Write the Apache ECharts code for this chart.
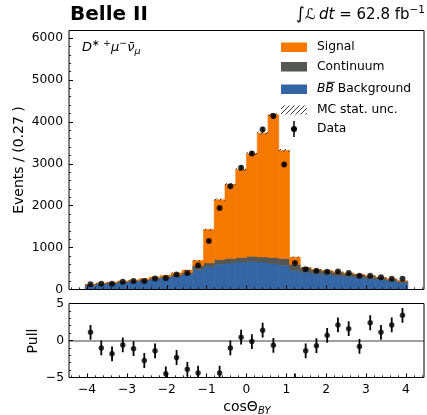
<!DOCTYPE html>
<html><head><meta charset="utf-8">
<script src="https://cdn.jsdelivr.net/npm/echarts@6/dist/echarts.min.js"></script>
<style>html,body{margin:0;padding:0;background:#fff}#c{width:427px;height:415px}</style>
</head><body><div id="c"></div>
<script>
// ---- data ----
const binWidth = 0.27;
const binCenters = [-3.915,-3.645,-3.375,-3.105,-2.835,-2.565,-2.295,-2.025,-1.755,-1.485,
  -1.215,-0.945,-0.675,-0.405,-0.135,0.135,0.405,0.675,0.945,1.215,
  1.485,1.755,2.025,2.295,2.565,2.835,3.105,3.375,3.645,3.915];
const bbBackground = [100,130,145,170,190,215,250,280,320,365,470,540,603,635,659,667,659,619,580,460,405,381,357,333,310,286,262,238,206,167];
const continuum    = [12,15,18,20,22,25,28,32,35,40,100,95,112,103,103,127,119,143,158,140,115,90,85,80,75,72,60,50,40,33];
const signal       = [5,8,8,10,12,15,20,25,40,55,120,794,1429,1771,2104,2446,2954,3407,2581,170,5,4,3,3,2,2,2,1,1,1];
const mcStatUnc    = [6,7,7,8,8,9,9,10,11,12,15,20,25,28,30,32,35,38,33,15,12,11,11,10,10,9,9,8,8,7];
const dataValues   = [127,140,140,185,200,205,262,272,357,395,580,1160,1945,2465,2905,3245,3820,4140,2980,635,484,448,425,430,395,330,330,290,258,254];
const dataErrors   = [11,12,12,14,14,14,16,16,19,20,24,34,44,50,54,57,62,64,55,25,22,21,21,21,20,18,18,17,16,16];
const pullValues   = [1.1,-1.0,-1.8,-0.6,-1.1,-2.7,-1.4,-4.5,-2.3,-3.9,-4.4,-7.4,-4.4,-1.0,0.45,-0.15,1.4,-0.65,-6.2,-5.45,-1.4,-0.7,0.7,2.1,1.6,-0.8,2.4,1.1,2.1,3.4];
const pullErrors   = [1,1,1,1,1,1,1,1,1,1,1,1,1,1,1,1,1,1,1,1,1,1,1,1,1,1,1,1,1,1];
const yTicksMain = [0,1000,2000,3000,4000,5000,6000];
const xTicks = [-4,-3,-2,-1,0,1,2,3,4];
const xMinorTicks = [-4.4,-4.2,-3.8,-3.6,-3.4,-3.2,-2.8,-2.6,-2.4,-2.2,-1.8,-1.6,-1.4,-1.2,-0.8,-0.6,-0.4,-0.2,
  0.2,0.4,0.6,0.8,1.2,1.4,1.6,1.8,2.2,2.4,2.6,2.8,3.2,3.4,3.6,3.8,4.2,4.4];
const pullTicks = [-5,0,5];

// ---- styling ----
const C_SIG = '#f57900', C_CONT = '#555753', C_BB = '#3465a4';
const FONT = 'DejaVu Sans';
const XMIN = -4.455, XMAX = 4.455;

// stacks
const rowsBB = binCenters.map((c,i)=>[c,0,bbBackground[i]]);
const rowsCont = binCenters.map((c,i)=>[c,bbBackground[i],bbBackground[i]+continuum[i]]);
const rowsSig = binCenters.map((c,i)=>[c,bbBackground[i]+continuum[i],bbBackground[i]+continuum[i]+signal[i]]);
const rowsUnc = binCenters.map((c,i)=>{const t=bbBackground[i]+continuum[i]+signal[i];return [c,t-mcStatUnc[i],t+mcStatUnc[i]];});
const rowsData = binCenters.map((c,i)=>[c,dataValues[i],dataErrors[i]]);
const rowsPull = binCenters.map((c,i)=>[c,pullValues[i],pullErrors[i]]);

// hatch pattern
const hc = document.createElement('canvas'); hc.width=5; hc.height=5;
const hg = hc.getContext('2d'); hg.strokeStyle='#222'; hg.lineWidth=0.9;
hg.beginPath(); hg.moveTo(0,5); hg.lineTo(5,0); hg.moveTo(-2.5,2.5); hg.lineTo(2.5,-2.5); hg.moveTo(2.5,7.5); hg.lineTo(7.5,2.5); hg.stroke();
const hatch = {image: hc, repeat: 'repeat'};

function rectRender(fill, stroke) {
  return function(params, api){
    const c = api.value(0), lo = api.value(1), hi = api.value(2);
    const p0 = api.coord([c - binWidth/2, hi]);
    const p1 = api.coord([c + binWidth/2, lo]);
    return {type:'rect', shape:{x:p0[0], y:p0[1], width:p1[0]-p0[0], height:p1[1]-p0[1]},
      style: stroke ? {fill: fill, stroke: fill, lineWidth: 0.6} : {fill: fill}};
  };
}
function errRender(w){
  return function(params, api){
    const c = api.value(0), v = api.value(1), e = api.value(2);
    const a = api.coord([c, v-e]), b = api.coord([c, v+e]);
    return {type:'line', shape:{x1:a[0], y1:a[1], x2:b[0], y2:b[1]}, style:{stroke:'#000', lineWidth:w}};
  };
}
const minus = v => (v < 0 ? '\u2212' + Math.abs(v) : String(v));
const isTick = (arr, v) => arr.some(t => Math.abs(t - v) < 1e-6);

const chart = echarts.init(document.getElementById('c'), null, {renderer:'canvas', width:427, height:415});
const tickMajor = {show:true, inside:true, length:4, lineStyle:{color:'#000', width:1}};
const tickMinor = {show:true, inside:true, length:2.2, lineStyle:{color:'#000', width:0.8}};
function xMajor(grid, labels){
  return {type:'value', gridIndex:grid, position:'bottom', min:XMIN, max:XMAX, z:10,
    axisLine:{show:false, onZero:false}, splitLine:{show:false},
    axisTick:Object.assign({customValues:xTicks}, tickMajor),
    axisLabel: labels ? {show:true, customValues:xTicks, margin:6, fontFamily:FONT, fontSize:12.3, color:'#000',
      formatter: v => minus(Math.round(v))} : {show:false}};
}
function xMinor(grid){
  return {type:'value', gridIndex:grid, position:'bottom', offset:0, min:XMIN, max:XMAX, z:10,
    axisLine:{show:false, onZero:false}, splitLine:{show:false},
    axisTick:Object.assign({customValues:xMinorTicks}, tickMinor), axisLabel:{show:false}};
}
chart.setOption({
  animation:false,
  grid:[
    {left:69, right:3, top:30.5, height:259, show:true, z:10, backgroundColor:'transparent', borderColor:'#000', borderWidth:1},
    {left:69, right:3, top:303.5, height:74, show:true, z:10, backgroundColor:'transparent', borderColor:'#000', borderWidth:1}
  ],
  xAxis:[ xMajor(0,false), xMajor(1,true), xMinor(0), xMinor(1) ],
  yAxis:[
    {type:'value', gridIndex:0, position:'left', min:0, max:6180, interval:1000, z:10,
      axisLine:{show:false, onZero:false}, splitLine:{show:false},
      axisTick:tickMajor, minorTick:Object.assign({splitNumber:5}, tickMinor),
      axisLabel:{show:true, margin:6, fontFamily:FONT, fontSize:12.3, color:'#000',
        formatter: v => (isTick(yTicksMain, v) ? String(Math.round(v)) : '')}},
    {type:'value', gridIndex:1, position:'left', min:-5, max:5, interval:5, z:10,
      axisLine:{show:false, onZero:false}, splitLine:{show:false},
      axisTick:tickMajor, minorTick:Object.assign({splitNumber:5}, tickMinor),
      axisLabel:{show:true, margin:5, fontFamily:FONT, fontSize:12.3, color:'#000',
        formatter: v => (isTick(pullTicks, v) ? minus(Math.round(v)) : '')}}
  ],
  series:[
    {type:'custom', name:'BB Background', xAxisIndex:0, yAxisIndex:0, data:rowsBB, renderItem:rectRender(C_BB,true), clip:true, z:2},
    {type:'custom', name:'Continuum', xAxisIndex:0, yAxisIndex:0, data:rowsCont, renderItem:rectRender(C_CONT,true), clip:true, z:2},
    {type:'custom', name:'Signal', xAxisIndex:0, yAxisIndex:0, data:rowsSig, renderItem:rectRender(C_SIG,true), clip:true, z:2},
    {type:'custom', name:'MC stat. unc.', xAxisIndex:0, yAxisIndex:0, data:rowsUnc, renderItem:rectRender(hatch,false), clip:true, z:3},
    {type:'custom', name:'Data err', xAxisIndex:0, yAxisIndex:0, data:rowsData, renderItem:errRender(1.5), clip:true, z:4},
    {type:'scatter', name:'Data', xAxisIndex:0, yAxisIndex:0, data:rowsData.map(r=>[r[0],r[1]]), symbol:'circle', symbolSize:6,
      itemStyle:{color:'#000'}, clip:true, z:5},
    {type:'custom', name:'Pull err', xAxisIndex:1, yAxisIndex:1, data:rowsPull, renderItem:errRender(1.8), clip:true, z:4},
    {type:'scatter', name:'Pull', xAxisIndex:1, yAxisIndex:1, data:rowsPull.map(r=>[r[0],r[1]]), symbol:'circle', symbolSize:5.5,
      itemStyle:{color:'#000'}, clip:true, z:5,
      markLine:{silent:true, symbol:'none', label:{show:false}, lineStyle:{color:'#808080', width:1.5, type:'solid'}, data:[{yAxis:0}], z:3}}
  ],
  graphic:[
    {type:'text', left:70, top:5, style:{text:'Belle II', font:'bold 20px "DejaVu Sans"', fill:'#000'}},
    {type:'text', x:425, y:15, style:{text:'{i|∫}{l|ℒ} {it|dt}{n| = 62.8 fb}{sp|−1}', align:'right', verticalAlign:'middle',
      rich:{i:{fontFamily:FONT, fontSize:17, lineHeight:20, fill:'#000'},
            l:{fontFamily:FONT, fontSize:15, fontStyle:'italic', lineHeight:20, fill:'#000'},
            it:{fontFamily:FONT, fontSize:15, fontStyle:'italic', lineHeight:20, fill:'#000'},
            n:{fontFamily:FONT, fontSize:15, lineHeight:20, fill:'#000'},
            sp:{fontFamily:FONT, fontSize:10.5, lineHeight:10, verticalAlign:'top', fill:'#000'}}}},
    {type:'text', x:82, y:48, style:{text:'{i|D}{sp|∗ +}{i|μ}{sp|−}{i|ν̄}{sb|μ}', verticalAlign:'middle',
      rich:{i:{fontFamily:FONT, fontSize:13, fontStyle:'italic', lineHeight:18, fill:'#000'},
            sp:{fontFamily:FONT, fontSize:9.5, lineHeight:10, verticalAlign:'top', fill:'#000'},
            sb:{fontFamily:FONT, fontSize:9.5, fontStyle:'italic', lineHeight:10, verticalAlign:'bottom', fill:'#000'}}}},
    {type:'text', x:19, y:160, rotation:Math.PI/2, style:{text:'Events / (0.27 )', font:'14px "DejaVu Sans"', fill:'#000', align:'center', verticalAlign:'middle'}},
    {type:'text', x:33, y:341, rotation:Math.PI/2, style:{text:'Pull', font:'14px "DejaVu Sans"', fill:'#000', align:'center', verticalAlign:'middle'}},
    {type:'text', x:247, y:407, style:{text:'{a|cosΘ}{s|BY}', align:'center', verticalAlign:'middle',
      rich:{a:{fontFamily:FONT, fontSize:14, lineHeight:18, fill:'#000'},
            s:{fontFamily:FONT, fontSize:10, fontStyle:'italic', lineHeight:10, verticalAlign:'bottom', fill:'#000'}}}},
    // legend
    {type:'rect', shape:{x:281, y:42.5, width:26, height:9.5}, style:{fill:C_SIG}},
    {type:'text', x:317, y:47, style:{text:'Signal', font:'12.3px "DejaVu Sans"', fill:'#000', verticalAlign:'middle'}},
    {type:'rect', shape:{x:281, y:62, width:26, height:9.5}, style:{fill:C_CONT}},
    {type:'text', x:317, y:66.7, style:{text:'Continuum', font:'12.3px "DejaVu Sans"', fill:'#000', verticalAlign:'middle'}},
    {type:'rect', shape:{x:281, y:84.5, width:26, height:9.5}, style:{fill:C_BB}},
    {type:'text', x:317, y:89, style:{text:'{i|BB}{n| Background}', verticalAlign:'middle',
      rich:{i:{fontFamily:FONT, fontSize:12.3, fontStyle:'italic', fill:'#000'}, n:{fontFamily:FONT, fontSize:12.3, fill:'#000'}}}},
    {type:'line', shape:{x1:327, y1:82.3, x2:335, y2:82.3}, style:{stroke:'#000', lineWidth:0.9}},
    {type:'rect', shape:{x:281, y:105.5, width:26, height:9}, style:{fill:hatch}},
    {type:'text', x:317, y:110, style:{text:'MC stat. unc.', font:'12.3px "DejaVu Sans"', fill:'#000', verticalAlign:'middle'}},
    {type:'line', shape:{x1:294, y1:121, x2:294, y2:137}, style:{stroke:'#000', lineWidth:1.5}},
    {type:'circle', shape:{cx:294, cy:129, r:3}, style:{fill:'#000'}},
    {type:'text', x:317, y:129, style:{text:'Data', font:'12.3px "DejaVu Sans"', fill:'#000', verticalAlign:'middle'}}
  ]
});
</script>
</body></html>
